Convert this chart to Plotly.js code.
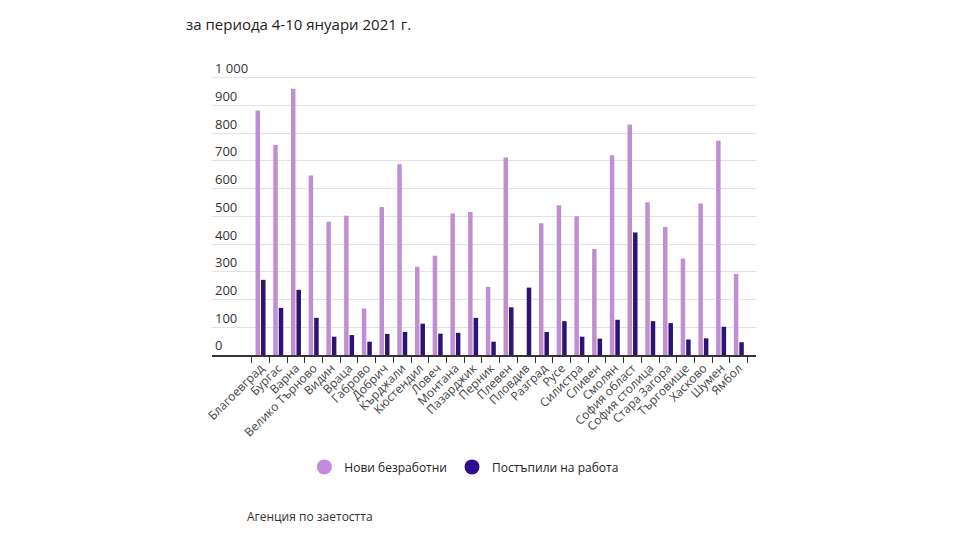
<!DOCTYPE html>
<html>
<head>
<meta charset="utf-8">
<script src="https://cdn.plot.ly/plotly-3.0.1.min.js"></script>
<style>html,body{margin:0;padding:0;background:#fff;}#chart{width:960px;height:540px;}</style>
</head>
<body>
<div id="chart"></div>
<script>
const categories = ["Благоевград","Бургас","Варна","Велико Търново","Видин","Враца","Габрово","Добрич","Кърджали","Кюстендил","Ловеч","Монтана","Пазарджик","Перник","Плевен","Пловдив","Разград","Русе","Силистра","Сливен","Смолян","София област","София столица","Стара Загора","Търговище","Хасково","Шумен","Ямбол"];
const newUnemployed = [882,757,960,647,481,502,168,534,688,318,358,510,516,246,712,null,475,540,500,382,720,831,551,462,348,546,773,292];
const startedWork = [271,170,235,134,66,72,48,76,83,113,77,80,134,48,172,243,83,122,66,59,127,442,122,115,56,60,102,46];
const seriesNames = ["Нови безработни","Постъпили на работа"];
const yTicks = [0,100,200,300,400,500,600,700,800,900,1000];
const yTickText = ["0","100","200","300","400","500","600","700","800","900","1 000"];
const titleText = "за периода 4-10 януари 2021 г.";
const sourceText = "Агенция по заетостта";

const lightColor = "#c08fd3";
const darkColor = "#2e1472";
const font = "'Open Sans', 'DejaVu Sans', sans-serif";

const data = [
  {type:"bar", x:categories, y:newUnemployed, name:seriesNames[0], marker:{color:lightColor}, showlegend:false},
  {type:"bar", x:categories, y:startedWork, name:seriesNames[1], marker:{color:darkColor}, showlegend:false},
  {type:"scatter", mode:"markers", x:[null], y:[null], name:seriesNames[0], marker:{color:"#c58ae0", size:15, symbol:"circle"}},
  {type:"scatter", mode:"markers", x:[null], y:[null], name:seriesNames[1], marker:{color:"#2f0d8f", size:15, symbol:"circle"}}
];

const layout = {
  width:960, height:540,
  margin:{l:212, r:204, t:49.6, b:185},
  paper_bgcolor:"#fff", plot_bgcolor:"#fff",
  font:{family:font, color:"#333", size:12},
  title:{text:titleText, x:186/960, xanchor:"left", xref:"container", y:1-25/540, yanchor:"middle", yref:"container", font:{family:font, size:15, color:"#222"}},
  barmode:"group", bargap:0.38, bargroupgap:0.18,
  xaxis:{type:"category", range:[-2.74,27.97], tickson:"boundaries", ticks:"outside", ticklen:6, tickcolor:"#333", tickwidth:1,
         showline:true, linecolor:"#333", linewidth:1.5, showgrid:false, tickangle:-45, tickfont:{size:12, color:"#444"}, fixedrange:true},
  yaxis:{range:[0,1100], tickmode:"array", tickvals:yTicks, ticktext:yTickText, ticklabelposition:"inside top",
         showgrid:true, gridcolor:"#e3e3e3", gridwidth:1, zeroline:false, showline:false, ticks:"", tickfont:{size:13, color:"#333"}, fixedrange:true},
  legend:{orientation:"h", x:0.463, xanchor:"center", y:-0.403*278/305.4, yanchor:"middle", font:{size:12, color:"#222"}, itemwidth:30},
  annotations:[{text:sourceText, xref:"paper", yref:"paper", x:(245-212)/544, xanchor:"left", y:(355-517)/305.4, yanchor:"middle", showarrow:false, font:{size:12, color:"#333"}}]
};

Plotly.newPlot("chart", data, layout, {displayModeBar:false, staticPlot:true});
</script>
</body>
</html>
